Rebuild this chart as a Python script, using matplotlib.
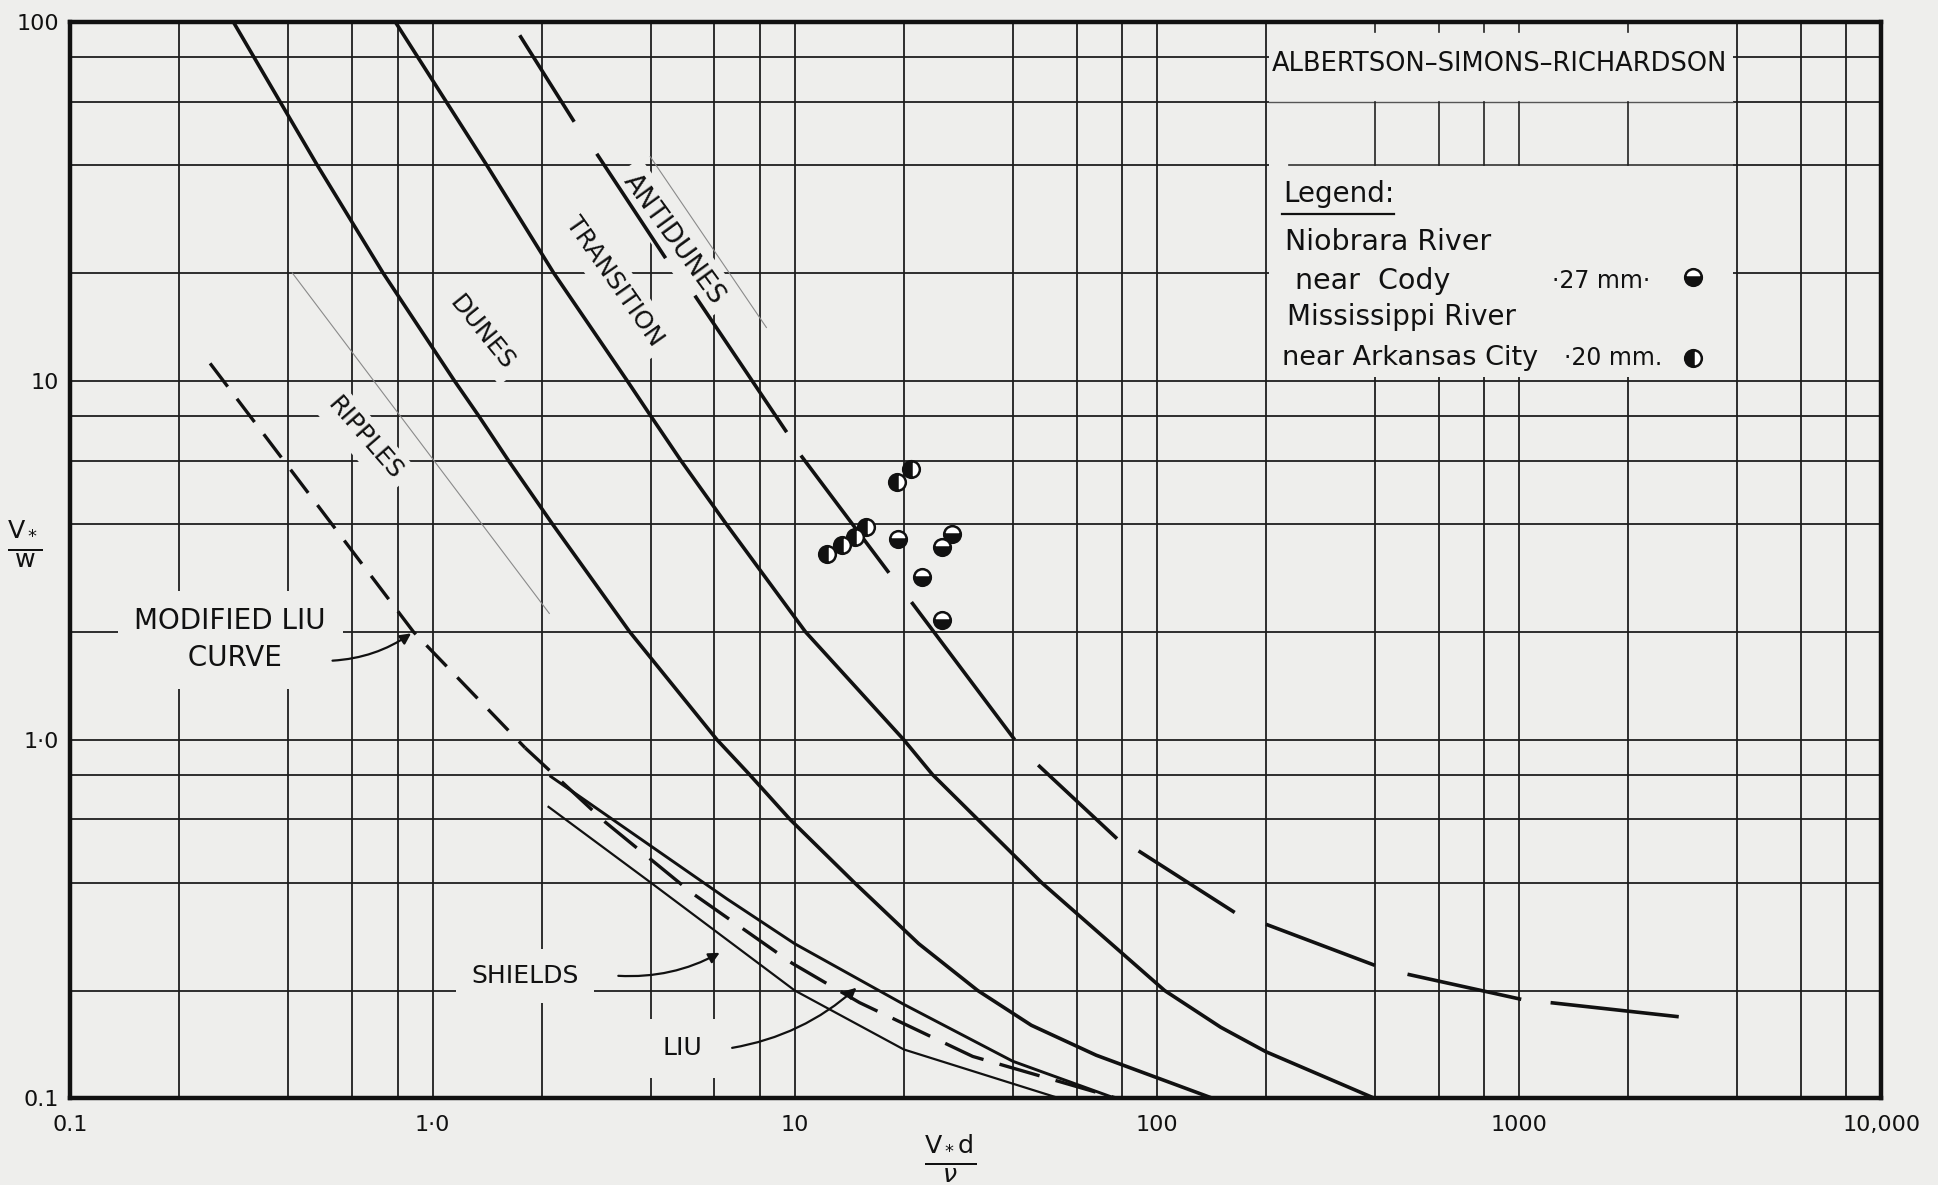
import matplotlib
matplotlib.use('Agg')
import matplotlib.pyplot as plt
from matplotlib.patches import Rectangle
from matplotlib.ticker import FixedLocator, NullFormatter

# ---- values ----
# ripples / dunes boundary (solid)
ripple_dune_x = [0.282, 0.48, 0.73, 1.15, 1.34, 1.62, 2.14, 3.5, 6.1, 7.5, 9.7, 14.6, 22, 32, 45, 68, 143]
ripple_dune_y = [100, 40, 20, 10, 8, 6, 4, 2, 1, 0.8, 0.6, 0.4, 0.27, 0.2, 0.16, 0.132, 0.1]

# dunes / transition boundary (solid)
dune_trans_x = [0.79, 1.41, 2.16, 3.45, 4.0, 4.85, 6.46, 10.7, 20, 24, 32, 48, 105, 150, 200, 400]
dune_trans_y = [100, 40, 20, 10, 8, 6, 4, 2, 1, 0.8, 0.6, 0.4, 0.2, 0.158, 0.135, 0.1]

# transition / antidunes boundary (drawn as separate long dashes)
antidune_segments = [
    [(1.74, 92), (2.46, 52.8)],
    [(2.84, 43), (4.4, 22)],
    [(5.3, 17.3), (9.5, 7.2)],
    [(10.4, 6.2), (18.2, 2.92)],
    [(21, 2.42), (40.5, 1.0)],
    [(47, 0.85), (77.6, 0.53)],
    [(89, 0.49), (164, 0.33)],
    [(200, 0.306), (400, 0.235)],
    [(492, 0.222), (1014, 0.189)],
    [(1222, 0.185), (2760, 0.169)],
]

# modified Liu curve (dashed, shorter dashes on the steep part)
mod_liu_x = [0.243, 0.885, 1.8, 3.0, 5.2, 9.85, 15.1, 31, 78]
mod_liu_y = [11.2, 2.0, 0.95, 0.589, 0.374, 0.238, 0.185, 0.131, 0.1]

# Liu (upper thin) and Shields (lower thin)
liu_x = [2.12, 4, 6.5, 10, 20, 40, 77]
liu_y = [0.79, 0.506, 0.36, 0.27, 0.183, 0.127, 0.1]
shields_x = [2.09, 4, 10, 20, 54]
shields_y = [0.65, 0.4, 0.2, 0.137, 0.1]

# field data
niobrara_x = [19.3, 27.2, 25.5, 22.4, 25.5]
niobrara_y = [3.62, 3.75, 3.44, 2.84, 2.16]
mississippi_x = [12.3, 13.5, 14.7, 15.7, 19.1, 20.9]
mississippi_y = [3.30, 3.49, 3.67, 3.92, 5.24, 5.69]

x_ticks = [0.1, 1, 10, 100, 1000, 10000]
x_tick_labels = ['0.1', '1·0', '10', '100', '1000', '10,000']
y_ticks = [0.1, 1, 10, 100]
y_tick_labels = ['0.1', '1·0', '10', '100']
grid_subs = [2, 4, 6, 8]

paper = '#eeeeec'
ink = '#111111'

plt.rcParams['font.family'] = ['DejaVu Sans']
plt.rcParams['mathtext.fontset'] = 'dejavusans'
plt.rcParams['lines.scale_dashes'] = False

fig = plt.figure(figsize=(19.38, 11.85), dpi=100)
fig.patch.set_facecolor(paper)
ax = fig.add_axes([0.03635, 0.0730, 0.93435, 0.9082])
ax.set_facecolor(paper)
ax.set_xscale('log')
ax.set_yscale('log')
ax.set_xlim(0.1, 10000)
ax.set_ylim(0.1, 100)

minor_x = [s * 10.0 ** e for e in range(-1, 4) for s in grid_subs]
minor_y = [s * 10.0 ** e for e in range(-1, 2) for s in grid_subs]
ax.xaxis.set_major_locator(FixedLocator(x_ticks))
ax.xaxis.set_minor_locator(FixedLocator(minor_x))
ax.yaxis.set_major_locator(FixedLocator(y_ticks))
ax.yaxis.set_minor_locator(FixedLocator(minor_y))
ax.xaxis.set_minor_formatter(NullFormatter())
ax.yaxis.set_minor_formatter(NullFormatter())
ax.set_xticklabels(x_tick_labels)
ax.set_yticklabels(y_tick_labels)
ax.tick_params(which='both', length=0, labelsize=16, colors=ink)
ax.tick_params(axis='x', pad=12)
ax.tick_params(axis='y', pad=8)
ax.set_axisbelow(True)
ax.grid(which='both', color='#1e1e1e', lw=1.3)
for sp in ax.spines.values():
    sp.set_linewidth(3.2)
    sp.set_color(ink)

# legend panel hiding most of the grid
ax.add_patch(Rectangle((204, 10.25), 3900 - 204, 99.4 - 10.25, facecolor=paper,
                       edgecolor='none', zorder=1))
ax.plot([204, 3900], [60, 60], color='#555555', lw=1.0, zorder=1.5)
ax.plot([232, 3900], [40, 40], color='#333333', lw=1.2, zorder=1.5)
for gx in [400, 600, 800, 1000, 2000]:
    ax.plot([gx, gx], [40, 60], color='#222222', lw=1.2, zorder=1.5)
    ax.plot([gx, gx], [93.8, 100], color='#222222', lw=1.2, zorder=1.5)

# label tape edges
ax.plot([0.41, 2.1], [20, 2.25], color='#8a8a8a', lw=0.8, zorder=1.6)
ax.plot([3.99, 8.35], [42.2, 14.1], color='#8a8a8a', lw=0.8, zorder=1.6)

# curves
ax.plot(ripple_dune_x, ripple_dune_y, color=ink, lw=2.6, zorder=3)
ax.plot(dune_trans_x, dune_trans_y, color=ink, lw=2.6, zorder=3)
for seg in antidune_segments:
    sx, sy = zip(*seg)
    ax.plot(sx, sy, color=ink, lw=2.6, solid_capstyle='butt', zorder=3)
ax.plot(mod_liu_x[:3], mod_liu_y[:3], color=ink, lw=2.4, linestyle=(0, (21, 11)), zorder=3)
ax.plot(mod_liu_x[2:], mod_liu_y[2:], color=ink, lw=2.4, linestyle=(6, (30, 12)), zorder=3)
ax.plot(liu_x, liu_y, color=ink, lw=2.1, zorder=3)
ax.plot(shields_x, shields_y, color=ink, lw=1.6, zorder=3)

# data points
ax.plot(niobrara_x, niobrara_y, 'o', ms=12, fillstyle='bottom', mfc=ink,
        markerfacecoloralt='white', mec=ink, mew=1.8, zorder=4)
ax.plot(mississippi_x, mississippi_y, 'o', ms=12, fillstyle='left', mfc=ink,
        markerfacecoloralt='white', mec=ink, mew=1.8, zorder=4)

# region labels
box = dict(boxstyle='square,pad=0.3', fc=paper, ec='none')
lab = dict(color=ink, ha='center', va='center', zorder=2, bbox=box)
ax.text(0.649, 6.9, 'RIPPLES', rotation=-49, fontsize=18, **lab)
ax.text(1.37, 13.6, 'DUNES', rotation=-51, fontsize=18, **lab)
ax.text(3.18, 18.9, 'TRANSITION', rotation=-55, fontsize=18, **lab)
ax.text(4.63, 24.9, 'ANTIDUNES', rotation=-54, fontsize=19, **lab)

ax.text(0.276, 1.9, 'MODIFIED LIU\n CURVE', fontsize=20, color=ink, ha='center',
        va='center', multialignment='center', linespacing=1.4, zorder=2,
        bbox=dict(boxstyle='square,pad=0.6', fc=paper, ec='none'))
ax.text(1.8, 0.22, 'SHIELDS', fontsize=18, color=ink, ha='center', va='center', zorder=2,
        bbox=dict(boxstyle='square,pad=0.6', fc=paper, ec='none'))
ax.text(4.9, 0.138, 'LIU', fontsize=18, color=ink, ha='center', va='center', zorder=2,
        bbox=dict(boxstyle='square,pad=0.7', fc=paper, ec='none'))

arrow = dict(arrowstyle='-|>', color=ink, lw=1.6, mutation_scale=16,
             connectionstyle='arc3,rad=0.15')
ax.annotate('', xy=(0.885, 2.0), xytext=(0.52, 1.66), arrowprops=arrow, zorder=4)
ax.annotate('', xy=(6.3, 0.257), xytext=(3.2, 0.22), arrowprops=arrow, zorder=4)
ax.annotate('', xy=(15, 0.206), xytext=(6.6, 0.138), arrowprops=arrow, zorder=4)

# legend panel text
t = dict(transform=ax.transAxes, color=ink, zorder=5)
ax.text(0.789, 0.961, 'ALBERTSON–SIMONS–RICHARDSON', fontsize=18.5, ha='center', va='center', **t)
ax.text(0.670, 0.840, 'Legend:', fontsize=20, ha='left', va='center', **t)
ax.plot([0.669, 0.731], [0.822, 0.822], transform=ax.transAxes, color=ink, lw=1.6, zorder=5)
ax.text(0.671, 0.796, 'Niobrara River', fontsize=20.5, ha='left', va='center', **t)
ax.text(0.676, 0.760, 'near  Cody', fontsize=20.5, ha='left', va='center', **t)
ax.text(0.818, 0.760, '·27 mm·', fontsize=17, ha='left', va='center', **t)
ax.text(0.672, 0.726, 'Mississippi River', fontsize=20, ha='left', va='center', **t)
ax.text(0.669, 0.688, 'near Arkansas City', fontsize=19.5, ha='left', va='center', **t)
ax.text(0.825, 0.688, '·20 mm.', fontsize=17, ha='left', va='center', **t)
ax.plot([0.896], [0.763], 'o', ms=12, fillstyle='bottom', mfc=ink, markerfacecoloralt='white',
        mec=ink, mew=1.8, transform=ax.transAxes, zorder=5)
ax.plot([0.896], [0.688], 'o', ms=12, fillstyle='left', mfc=ink, markerfacecoloralt='white',
        mec=ink, mew=1.8, transform=ax.transAxes, zorder=5)

# axis titles
fig.text(0.0128, 0.541, r'$\frac{\mathrm{V_*}}{\mathrm{w}}$', fontsize=26, color=ink,
         ha='center', va='center')
fig.text(0.49, 0.022, r'$\frac{\mathrm{V_* d}}{\nu}$', fontsize=26, color=ink,
         ha='center', va='center')

fig.savefig('out.png', dpi=100, facecolor=paper)
